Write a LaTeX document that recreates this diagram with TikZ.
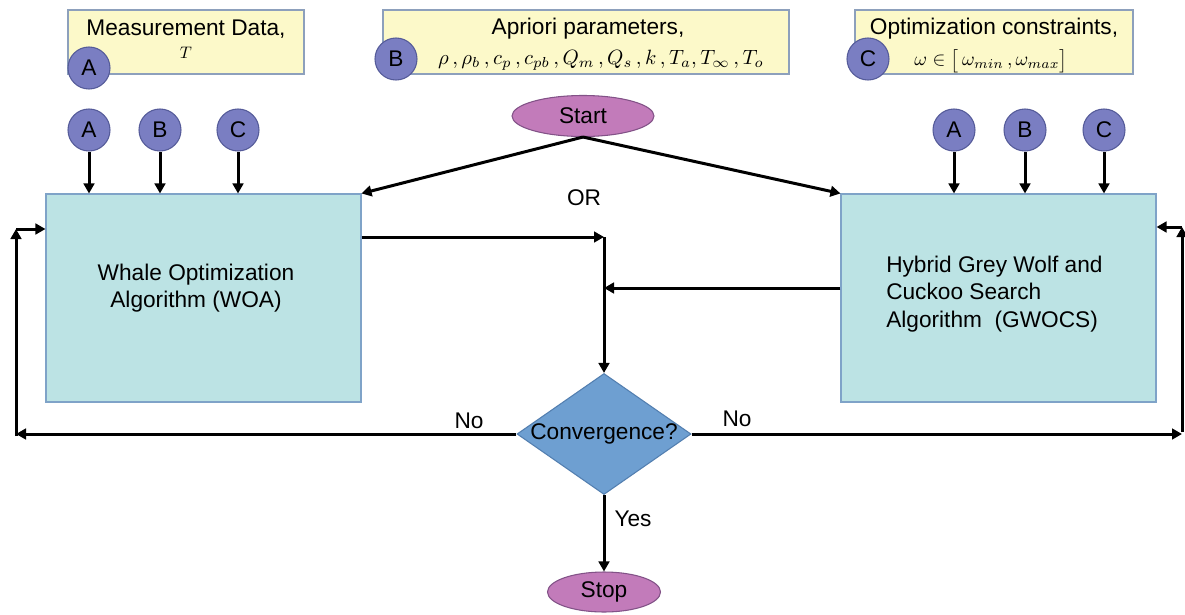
\documentclass[tikz,border=0pt]{standalone}
\usepackage{fontspec}
\setmainfont{Liberation Sans}
\usetikzlibrary{arrows.meta,shapes.geometric}
\definecolor{noteFill}{HTML}{FCF9C9}
\definecolor{noteLine}{HTML}{8DA0BC}
\definecolor{tagFill}{HTML}{7A7EC2}
\definecolor{tagLine}{HTML}{555B99}
\definecolor{algFill}{HTML}{BCE3E4}
\definecolor{algLine}{HTML}{7FA3C8}
\definecolor{decFill}{HTML}{6E9FD1}
\definecolor{decLine}{HTML}{537FB0}
\definecolor{termFill}{HTML}{C27BBA}
\definecolor{termLine}{HTML}{825287}
\tikzset{
  txt/.style={font=\fontsize{17}{20.5}\selectfont, inner sep=0pt},
  eqn/.style={font=\fontsize{10}{12}\selectfont, inner sep=0pt},
  note/.style={draw=noteLine, fill=noteFill, line width=0.8pt, minimum height=48pt, inner sep=0pt},
  tag/.style={circle, draw=tagLine, fill=tagFill, line width=0.8pt, minimum size=31.5pt, inner sep=0pt, txt},
  alg/.style={draw=algLine, fill=algFill, line width=0.8pt, minimum width=236.25pt, minimum height=156pt, inner sep=0pt},
  term/.style={ellipse, draw=termLine, fill=termFill, line width=0.8pt, inner sep=0pt, txt},
  decision/.style={diamond, draw=decLine, fill=decFill, line width=0.8pt, inner sep=0pt, minimum width=130.5pt, minimum height=90.75pt},
  arr/.style={line width=2.25pt, -{Triangle[length=7.5pt,width=8pt]}},
}
\begin{document}
\begin{tikzpicture}[x=0.75pt,y=-0.75pt]
\useasboundingbox (0,0) rectangle (1185,614);

% input notes
\node[note, minimum width=177pt] (nA) at (186,42) {};
\node[txt] (nAt) at (186,29) {Measurement Data,};
\node[eqn] (nAm) at (186,53) {\scalebox{1.25}{$T$}};
\node[tag] (tA) at (89,68) {A};

\node[note, minimum width=304.5pt] (nB) at (586,42) {};
\node[txt] (nBt) at (588,29) {Apriori parameters,};
\node[eqn] (nBm) at (601,60)
  {\scalebox{1.55}{$\rho\,,\rho_b\,,c_p\,,c_{pb}\,,Q_m\,,Q_s\,,k\,,T_a,T_\infty\,,T_o$}};
\node[tag] (tB) at (396,59) {B};

\node[note, minimum width=208.5pt] (nC) at (994,42) {};
\node[txt] (nCt) at (994,29) {Optimization constraints,};
\node[eqn] (nCm) at (991,61)
  {\scalebox{1.45}{$\omega\in\bigl[\,\omega_{min}\,,\omega_{max}\bigr]$}};
\node[tag] (tC) at (868,59) {C};

% start
\node[term, minimum width=106.5pt, minimum height=30.75pt] (start) at (583,116) {Start};

% algorithm blocks
\node[alg] (woa) at (203.5,298) {};
\node[txt, align=center] (woat) at (196,288) {Whale Optimization\\Algorithm (WOA)};
\node[alg] (gw) at (998.5,298) {};
\node[txt, align=left, anchor=west] (gwt) at (886,294) {Hybrid Grey Wolf and\\Cuckoo Search\\Algorithm\ \ (GWOCS)};

% input tags
\node[tag] (a1) at (89,130) {A};
\node[tag] (b1) at (160,130) {B};
\node[tag] (c1) at (238,130) {C};
\node[tag] (a2) at (954,130) {A};
\node[tag] (b2) at (1025,130) {B};
\node[tag] (c2) at (1104,130) {C};

% decision and stop
\node[decision] (conv) at (604,434) {};
\node[txt] (convt) at (604,434) {Convergence?};
\node[term, minimum width=84.75pt, minimum height=30pt] (stop) at (604,592) {Stop};

% labels
\node[txt] (lor) at (584,198) {OR};
\node[txt] (lno1) at (469,421) {No};
\node[txt] (lno2) at (737,419) {No};
\node[txt] (lyes) at (633,519) {Yes};

% routing points
\coordinate (j1) at (604,237);
\coordinate (j2) at (604,288);
\coordinate (L1) at (16,436);
\coordinate (L2) at (16,229);
\coordinate (R1) at (1182,432);
\coordinate (R2) at (1182,227);

% tag inputs
\foreach \t/\b in {a1/woa,b1/woa,c1/woa,a2/gw,b2/gw,c2/gw}
  \draw[arr] (\t.south) -- (\t.south |- \b.north);

% start branches
\draw[arr] (start.south) -- (woa.north east);
\draw[arr] (start.south) -- (gw.north west);

% outputs to decision
\draw[arr] (j1 -| woa.east) -- (j1);
\draw[arr] (j2 -| gw.west) -- (j2);
\draw[arr] (j1) -- (conv.north);

% loops
\draw[arr] (conv.west) -- (conv.west -| L1);
\draw[arr] (L1) -- (L2);
\draw[arr] (L2) -- (L2 -| woa.west);
\draw[arr] (conv.east) -- (conv.east -| R1);
\draw[arr] (R1) -- (R2);
\draw[arr] (R2) -- (R2 -| gw.east);

% exit
\draw[arr] (conv.south) -- (stop.north);
\end{tikzpicture}
\end{document}
